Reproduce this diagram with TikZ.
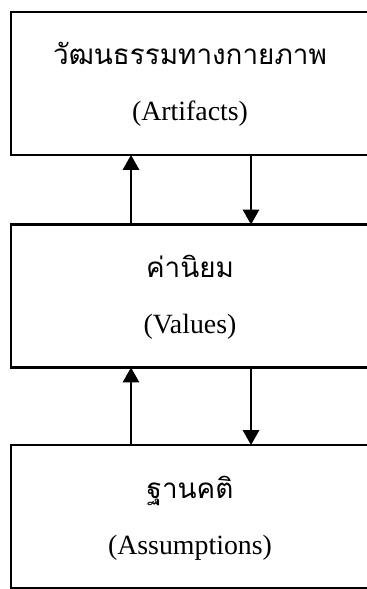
\documentclass[tikz,border=0pt]{standalone}
\usepackage{fontspec}
\setmainfont{Liberation Serif}
\newfontfamily\thaifont[Script=Thai]{Loma}
\usetikzlibrary{arrows.meta}

\begin{document}
\begin{tikzpicture}[scale=1,
  layer/.style={draw, line width=2.1pt, minimum width=8.95cm, minimum height=3.575cm, inner sep=0pt, outer sep=0pt},
  thai/.style={anchor=base, font=\thaifont\fontsize{19.8}{24}\selectfont},
  eng/.style={anchor=base, font=\fontsize{19.8}{24}\selectfont},
  link/.style={line width=1.4pt, -{Triangle[length=10.5pt,width=11.5pt]}}]

\useasboundingbox (0,0) rectangle (9.15,-14.725);

\coordinate (a) at (4.75, -2.0875);
\coordinate (v) at (4.75, -7.4);
\coordinate (s) at (4.75, -12.9125);

\node [layer] (art) at (a) {};
\node [layer] (val) at (v) {};
\node [layer] (ass) at (s) {};

\node [thai] (artTh) at ([yshift=-1.325cm]art.north) {วัฒนธรรมทางกายภาพ};
\node [eng] (artEn) at ([yshift=-2.725cm]art.north) {(Artifacts)};
\node [thai] (valTh) at ([yshift=-1.325cm]val.north) {ค่านิยม};
\node [eng] (valEn) at ([yshift=-2.725cm]val.north) {(Values)};
\node [thai] (assTh) at ([yshift=-1.325cm]ass.north) {ฐานคติ};
\node [eng] (assEn) at ([yshift=-2.725cm]ass.north) {(Assumptions)};

% up and down between the layers
\draw [link] ([xshift=3cm]val.north west) -- ([xshift=3cm]art.south west);
\draw [link] ([xshift=6cm]art.south west) -- ([xshift=6cm]val.north west);
\draw [link] ([xshift=3cm]ass.north west) -- ([xshift=3cm]val.south west);
\draw [link] ([xshift=6cm]val.south west) -- ([xshift=6cm]ass.north west);

\end{tikzpicture}
\end{document}
